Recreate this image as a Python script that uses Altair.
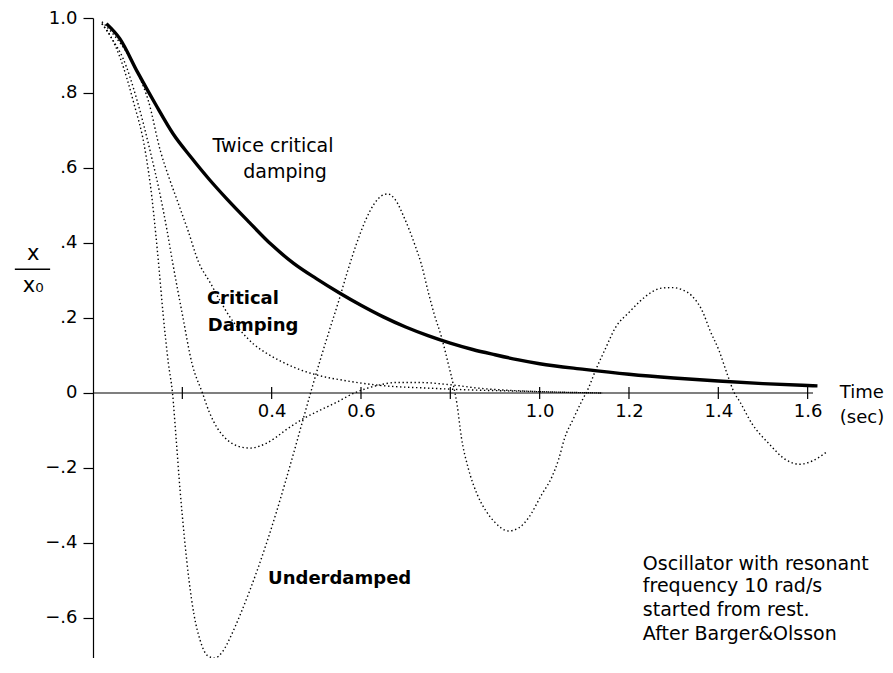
import altair as alt
import pandas as pd

# ---- data ----
# Twice critical damping (thick solid curve)
twice_t = [0.03, 0.06, 0.1, 0.14, 0.18, 0.22, 0.26, 0.3, 0.35, 0.4, 0.45, 0.5, 0.55, 0.6,
           0.65, 0.7, 0.75, 0.8, 0.85, 0.9, 0.95, 1.0, 1.1, 1.2, 1.3, 1.4, 1.5, 1.6, 1.622]
twice_v = [0.985, 0.945, 0.855, 0.77, 0.69, 0.628, 0.57, 0.517, 0.455, 0.395, 0.345, 0.305,
           0.268, 0.234, 0.203, 0.176, 0.153, 0.133, 0.116, 0.102, 0.089, 0.078, 0.063, 0.05,
           0.04, 0.032, 0.025, 0.02, 0.019]

# Critical damping (dotted)
crit_t = [0.02, 0.05, 0.083, 0.105, 0.124, 0.151, 0.17, 0.189, 0.213, 0.236, 0.263, 0.285,
          0.308, 0.335, 0.36, 0.39, 0.42, 0.455, 0.495, 0.57, 0.645, 0.75, 0.85, 0.95, 1.05, 1.14]
crit_v = [0.99, 0.95, 0.893, 0.84, 0.779, 0.645, 0.575, 0.512, 0.432, 0.35, 0.293, 0.245,
          0.2, 0.16, 0.13, 0.105, 0.085, 0.066, 0.05, 0.032, 0.02, 0.013, 0.008, 0.005, 0.002, 0.0]

# Moderately underdamped (dotted, small dip)
damped_t = [0.02, 0.045, 0.067, 0.099, 0.128, 0.15, 0.166, 0.178, 0.2, 0.222, 0.245, 0.26,
            0.278, 0.296, 0.315, 0.335, 0.353, 0.372, 0.39, 0.41, 0.43, 0.45, 0.47, 0.51,
            0.545, 0.585, 0.63, 0.68, 0.73, 0.8, 0.87, 0.95, 1.05, 1.14]
damped_v = [0.985, 0.94, 0.893, 0.779, 0.645, 0.53, 0.432, 0.35, 0.21, 0.077, 0.0, -0.05,
            -0.093, -0.12, -0.137, -0.145, -0.147, -0.142, -0.133, -0.118, -0.1, -0.084, -0.069, -0.045,
            -0.025, 0.0, 0.018, 0.028, 0.028, 0.022, 0.012, 0.006, 0.002, 0.0]

# Lightly underdamped (dotted, large oscillation)
under_t = [0.02, 0.04, 0.061, 0.09, 0.117, 0.132, 0.14, 0.148, 0.157, 0.169, 0.178, 0.186,
           0.195, 0.205, 0.215, 0.226, 0.24, 0.256, 0.272, 0.29, 0.31, 0.33, 0.35, 0.37,
           0.39, 0.41, 0.43, 0.45, 0.47, 0.49, 0.51, 0.53, 0.55, 0.57, 0.59, 0.61, 0.63,
           0.645, 0.66, 0.677, 0.697, 0.72, 0.735, 0.75, 0.764, 0.78, 0.795, 0.807, 0.815, 0.825,
           0.84, 0.86, 0.88, 0.9, 0.93, 0.953, 0.975, 1.005, 1.027, 1.043, 1.056, 1.075,
           1.095, 1.11, 1.125, 1.146, 1.17, 1.2, 1.225, 1.252, 1.275, 1.297, 1.32, 1.34,
           1.364, 1.382, 1.402, 1.42, 1.436, 1.447, 1.476, 1.514, 1.551, 1.582, 1.611, 1.645]
under_v = [0.985, 0.95, 0.893, 0.779, 0.645, 0.52, 0.43, 0.33, 0.21, 0.077, 0.0, -0.12,
           -0.26, -0.39, -0.5, -0.59, -0.66, -0.7, -0.707, -0.69, -0.645, -0.59, -0.53, -0.465,
           -0.395, -0.32, -0.24, -0.157, -0.072, 0.012, 0.093, 0.17, 0.245, 0.325, 0.398, 0.46, 0.505,
           0.525, 0.531, 0.515, 0.467, 0.397, 0.344, 0.272, 0.21, 0.15, 0.08, 0.02, -0.03, -0.12,
           -0.2, -0.27, -0.315, -0.345, -0.368, -0.36, -0.333, -0.27, -0.225, -0.175, -0.12, -0.07,
           -0.02, 0.015, 0.06, 0.115, 0.175, 0.215, 0.245, 0.27, 0.28, 0.281, 0.275, 0.26,
           0.219, 0.165, 0.112, 0.05, 0.0, -0.021, -0.083, -0.136, -0.178, -0.19, -0.181, -0.155]

# Axes
x_ticks = [0.2, 0.4, 0.6, 0.8, 1.0, 1.2, 1.4, 1.6]
x_labels = [0.4, 0.6, 1.0, 1.2, 1.4, 1.6]
y_ticks = [-0.6, -0.4, -0.2, 0.0, 0.2, 0.4, 0.6, 0.8, 1.0]
x_max = 1.612
y_min, y_max = -0.7067, 1.0

# Annotations (positions in data units)
notes_time = ["Time", "(sec)"]
notes_time_t = [1.672, 1.672]
notes_time_v = [0.0, -0.067]

notes_regular = ["Oscillator with resonant", "frequency 10 rad/s",
                 "started from rest.", "After Barger&Olsson"]
notes_regular_t = [1.231, 1.231, 1.231, 1.231]
notes_regular_v = [-0.455, -0.516, -0.578, -0.642]

notes_center = ["Twice critical", "damping"]
notes_center_t = [0.403, 0.43]
notes_center_v = [0.658, 0.588]

notes_bold = ["Critical", "Damping", "Underdamped"]
notes_bold_t = [0.255, 0.257, 0.392]
notes_bold_v = [0.251, 0.179, -0.497]

FONT = "DejaVu Sans"

# ---- build tables ----
curves = pd.DataFrame({
    "t": crit_t + damped_t + under_t,
    "v": crit_v + damped_v + under_v,
    "curve": (["critical"] * len(crit_t) + ["damped"] * len(damped_t)
              + ["under"] * len(under_t)),
})
curves["order"] = range(len(curves))
thick = pd.DataFrame({"t": twice_t, "v": twice_v})

xs = alt.Scale(domain=[0, x_max], nice=False, zero=False)
ys = alt.Scale(domain=[y_min, y_max], nice=False, zero=False)

y_label_expr = ("datum.value == 0 ? '0' : datum.value == 1 ? '1.0' : "
                "replace(format(datum.value, '.1f'), '0.', '.')")

X_AXIS = alt.Axis(values=x_labels, labelExpr="format(datum.value, '.1f')",
                  orient="bottom", offset=-265, domain=False, ticks=False,
                  tickSize=0, labelPadding=9, labelFontSize=18, labelFont=FONT,
                  labelColor="black", grid=False, title=None,
                  labelOverlap=False, labelFlush=False)
Y_AXIS = alt.Axis(values=y_ticks, labelExpr=y_label_expr, orient="left",
                  domainColor="black", domainWidth=1.2, tickColor="black",
                  tickWidth=1.2, tickSize=10, labelPadding=6, labelFontSize=18,
                  labelFont=FONT, labelColor="black", grid=False, title=None,
                  labelOverlap=False, labelFlush=False)


def X(field):
    return alt.X(field, scale=xs, axis=X_AXIS)


def Y(field):
    return alt.Y(field, scale=ys, axis=Y_AXIS)


thick_line = alt.Chart(thick).mark_line(
    color="black", strokeWidth=3.4, interpolate="monotone").encode(
    x=X("t:Q"), y=Y("v:Q"))

dotted = alt.Chart(curves).mark_line(
    color="black", strokeWidth=1.4, strokeDash=[1.4, 2.6], interpolate="monotone").encode(
    x=X("t:Q"), y=Y("v:Q"), detail="curve:N", order="order:Q")

x_axis_line = alt.Chart(pd.DataFrame({"t": [0.0], "b": [x_max], "v": [0.0]})).mark_rule(
    color="black", strokeWidth=1.2).encode(x=X("t:Q"), x2="b:Q", y=Y("v:Q"))

x_tick_marks = alt.Chart(pd.DataFrame({"t": x_ticks, "v": [-0.016] * len(x_ticks),
                                       "v2": [0.016] * len(x_ticks)})).mark_rule(
    color="black", strokeWidth=1.2).encode(x=X("t:Q"), y=Y("v:Q"), y2="v2:Q")

# y title  x / x0
ytitle = alt.Chart(pd.DataFrame({"t": [-0.134, -0.134], "v": [0.37, 0.286],
                                 "s": ["x", "x₀"]})).mark_text(
    fontSize=21, font=FONT, color="black", align="center", baseline="middle").encode(
    x=X("t:Q"), y=Y("v:Q"), text="s:N")
ytitle_bar = alt.Chart(pd.DataFrame({"t": [-0.175], "b": [-0.096], "v": [0.33]})).mark_rule(
    color="black", strokeWidth=1.5).encode(x=X("t:Q"), x2="b:Q", y=Y("v:Q"))

time_txt = alt.Chart(pd.DataFrame({"t": notes_time_t, "v": notes_time_v,
                                   "s": notes_time})).mark_text(
    fontSize=18, font=FONT, color="black", align="left", baseline="middle").encode(
    x=X("t:Q"), y=Y("v:Q"), text="s:N")

reg = alt.Chart(pd.DataFrame({"t": notes_regular_t, "v": notes_regular_v,
                              "s": notes_regular})).mark_text(
    fontSize=19, font=FONT, color="black", align="left", baseline="middle").encode(
    x=X("t:Q"), y=Y("v:Q"), text="s:N")

cen = alt.Chart(pd.DataFrame({"t": notes_center_t, "v": notes_center_v,
                              "s": notes_center})).mark_text(
    fontSize=19, font=FONT, color="black", align="center", baseline="middle").encode(
    x=X("t:Q"), y=Y("v:Q"), text="s:N")

bold = alt.Chart(pd.DataFrame({"t": notes_bold_t, "v": notes_bold_v,
                               "s": notes_bold})).mark_text(
    fontSize=18, font=FONT, fontWeight="bold", color="black", align="left",
    baseline="middle").encode(x=X("t:Q"), y=Y("v:Q"), text="s:N")

chart = alt.layer(
    thick_line, dotted, x_axis_line, x_tick_marks, ytitle, ytitle_bar,
    time_txt, reg, cen, bold,
).properties(
    width=720, height=640,
    autosize=alt.AutoSizeParams(type="none"),
    padding={"left": 85, "top": 10, "right": 72, "bottom": 0},
    background="white",
).configure_view(stroke=None)

chart.save("out.html", embed_options={"renderer": "svg", "actions": False})
